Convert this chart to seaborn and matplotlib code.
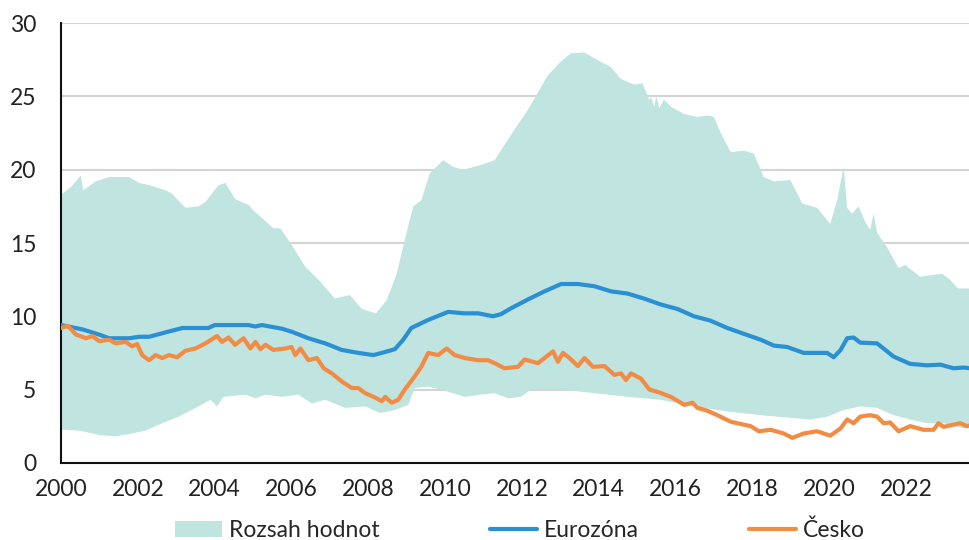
import numpy as np
import matplotlib
matplotlib.use("Agg")
import matplotlib.pyplot as plt
import seaborn as sns
from matplotlib.patches import Patch
from matplotlib.lines import Line2D

# Range of values across countries (upper edge)
hi_t = [2000.0, 2000.25, 2000.51, 2000.58, 2000.9, 2001.25, 2001.77, 2002.03, 2002.29, 2002.72,
        2002.87, 2003.24, 2003.58, 2003.76, 2004.1, 2004.28, 2004.53, 2004.88, 2005.06, 2005.32,
        2005.53, 2005.71, 2006.0, 2006.35, 2006.7, 2007.13, 2007.52, 2007.83, 2008.2, 2008.48,
        2008.74, 2008.95, 2009.17, 2009.38, 2009.6, 2009.95, 2010.21, 2010.47, 2010.9, 2011.29,
        2011.72, 2012.16, 2012.42, 2012.68, 2013.02, 2013.28, 2013.63, 2013.89, 2014.32, 2014.58,
        2014.93, 2015.14, 2015.32, 2015.36, 2015.45, 2015.5, 2015.58, 2015.7, 2015.88, 2016.23,
        2016.57, 2016.83, 2017.0, 2017.18, 2017.44, 2017.78, 2018.04, 2018.3, 2018.56, 2018.99,
        2019.3, 2019.69, 2020.03, 2020.21, 2020.38, 2020.47, 2020.6, 2020.77, 2020.94, 2021.07,
        2021.16, 2021.25, 2021.5, 2021.81, 2021.98, 2022.37, 2022.94, 2023.15, 2023.35, 2023.67]
hi_v = [18.3, 18.8, 19.6, 18.6, 19.2, 19.5, 19.5, 19.1, 18.95, 18.6,
        18.4, 17.4, 17.5, 17.8, 18.95, 19.1, 18.0, 17.6, 17.1, 16.5,
        16.0, 16.0, 14.9, 13.4, 12.5, 11.2, 11.45, 10.5, 10.2, 11.1,
        12.9, 15.2, 17.5, 17.9, 19.75, 20.65, 20.2, 20.0, 20.3, 20.65,
        22.4, 24.1, 25.3, 26.45, 27.4, 27.95, 28.0, 27.6, 27.0, 26.2,
        25.8, 25.9, 24.75, 25.0, 24.3, 25.0, 24.2, 24.8, 24.3, 23.8,
        23.6, 23.7, 23.6, 22.5, 21.2, 21.3, 21.1, 19.5, 19.2, 19.3,
        17.7, 17.4, 16.3, 17.9, 20.2, 17.4, 17.0, 17.5, 16.45, 15.9,
        17.0, 15.7, 14.75, 13.3, 13.5, 12.7, 12.9, 12.5, 11.9, 11.9]

# Range of values across countries (lower edge)
lo_t = [2000.0, 2000.47, 2000.99, 2001.42, 2001.85, 2002.2, 2002.63, 2003.06, 2003.58, 2003.89,
        2004.06, 2004.23, 2004.8, 2005.06, 2005.32, 2005.75, 2006.18, 2006.53, 2006.88, 2007.4,
        2007.92, 2008.3, 2008.69, 2009.04, 2009.21, 2009.56, 2010.08, 2010.51, 2010.94, 2011.29,
        2011.64, 2011.98, 2012.24, 2013.02, 2013.89, 2014.75, 2015.62, 2016.48, 2017.35, 2018.22,
        2019.08, 2019.51, 2019.95, 2020.38, 2020.81, 2021.25, 2021.68, 2022.11, 2022.55, 2022.98,
        2023.5, 2023.67]
lo_v = [2.25, 2.2, 1.9, 1.8, 2.0, 2.2, 2.7, 3.15, 3.85, 4.3,
        3.85, 4.5, 4.65, 4.4, 4.65, 4.5, 4.65, 4.05, 4.3, 3.75,
        3.85, 3.4, 3.6, 3.95, 5.1, 5.2, 4.85, 4.5, 4.65, 4.75,
        4.4, 4.5, 5.0, 5.0, 4.75, 4.5, 4.3, 3.85, 3.5, 3.25,
        3.05, 2.95, 3.15, 3.6, 3.85, 3.75, 3.25, 2.95, 2.7, 2.7,
        2.35, 2.4]

# Eurozone
eu_t = [2000.0, 2000.56, 2000.99, 2001.25, 2001.77, 2002.03, 2002.29, 2002.72, 2003.16, 2003.84,
        2004.0, 2004.88, 2005.06, 2005.23, 2005.75, 2006.0, 2006.44, 2006.88, 2007.31, 2007.74,
        2008.13, 2008.35, 2008.69, 2008.91, 2009.12, 2009.56, 2010.08, 2010.51, 2010.86, 2011.25,
        2011.46, 2011.72, 2012.16, 2012.59, 2013.02, 2013.46, 2013.89, 2014.32, 2014.75, 2015.19,
        2015.62, 2016.05, 2016.48, 2016.91, 2017.35, 2017.78, 2018.22, 2018.56, 2018.91, 2019.34,
        2019.69, 2019.95, 2020.12, 2020.3, 2020.47, 2020.64, 2020.81, 2021.25, 2021.68, 2022.11,
        2022.55, 2022.9, 2023.24, 2023.5, 2023.67]
eu_v = [9.4, 9.1, 8.75, 8.5, 8.5, 8.6, 8.6, 8.9, 9.2, 9.2,
        9.4, 9.4, 9.3, 9.4, 9.15, 8.95, 8.5, 8.15, 7.7, 7.5,
        7.35, 7.5, 7.75, 8.4, 9.2, 9.75, 10.3, 10.2, 10.2, 10.0,
        10.15, 10.55, 11.15, 11.7, 12.2, 12.2, 12.05, 11.7, 11.55, 11.2,
        10.8, 10.5, 10.0, 9.7, 9.2, 8.8, 8.4, 8.0, 7.9, 7.5,
        7.5, 7.5, 7.2, 7.7, 8.5, 8.55, 8.2, 8.15, 7.25, 6.75,
        6.65, 6.7, 6.45, 6.5, 6.45]

# Czechia
cz_t = [2000.0, 2000.17, 2000.39, 2000.65, 2000.82, 2000.99, 2001.25, 2001.42, 2001.68, 2001.85,
        2001.98, 2002.11, 2002.29, 2002.46, 2002.63, 2002.81, 2003.02, 2003.24, 2003.5, 2003.76,
        2004.06, 2004.19, 2004.36, 2004.53, 2004.75, 2004.93, 2005.06, 2005.19, 2005.32, 2005.53,
        2005.84, 2006.0, 2006.1, 2006.23, 2006.44, 2006.66, 2006.84, 2007.05, 2007.31, 2007.57,
        2007.74, 2007.92, 2008.18, 2008.35, 2008.44, 2008.61, 2008.78, 2008.95, 2009.21, 2009.38,
        2009.56, 2009.82, 2010.04, 2010.25, 2010.51, 2010.86, 2011.12, 2011.29, 2011.55, 2011.9,
        2012.07, 2012.42, 2012.59, 2012.81, 2012.94, 2013.07, 2013.24, 2013.46, 2013.63, 2013.85,
        2014.15, 2014.41, 2014.58, 2014.71, 2014.84, 2015.1, 2015.32, 2015.58, 2015.88, 2016.23,
        2016.44, 2016.57, 2016.83, 2017.09, 2017.44, 2017.78, 2017.96, 2018.17, 2018.48, 2018.82,
        2019.04, 2019.34, 2019.69, 2020.03, 2020.3, 2020.47, 2020.64, 2020.81, 2021.07, 2021.25,
        2021.42, 2021.59, 2021.81, 2022.11, 2022.46, 2022.72, 2022.85, 2022.98, 2023.41, 2023.59,
        2023.67]
cz_v = [9.2, 9.35, 8.75, 8.5, 8.65, 8.3, 8.4, 8.15, 8.25, 7.95,
        8.1, 7.35, 7.0, 7.35, 7.15, 7.35, 7.2, 7.65, 7.8, 8.15,
        8.65, 8.25, 8.55, 8.05, 8.5, 7.8, 8.25, 7.75, 8.05, 7.7,
        7.8, 7.9, 7.35, 7.8, 7.0, 7.15, 6.45, 6.1, 5.55, 5.1,
        5.1, 4.75, 4.45, 4.2, 4.5, 4.1, 4.3, 5.0, 5.9, 6.55,
        7.5, 7.35, 7.8, 7.35, 7.15, 7.0, 7.0, 6.8, 6.45, 6.55,
        7.05, 6.8, 7.15, 7.6, 6.9, 7.5, 7.15, 6.6, 7.15, 6.55,
        6.6, 6.0, 6.1, 5.65, 6.1, 5.75, 5.0, 4.8, 4.5, 3.95,
        4.1, 3.75, 3.55, 3.25, 2.8, 2.6, 2.5, 2.15, 2.25, 2.0,
        1.7, 2.0, 2.15, 1.85, 2.35, 2.95, 2.7, 3.15, 3.25, 3.15,
        2.7, 2.75, 2.15, 2.5, 2.25, 2.25, 2.7, 2.45, 2.7, 2.5,
        2.55]

band_color = "#c0e4df"
eu_color = "#2b8fd4"
cz_color = "#f28c45"

sns.set_style("white")
plt.rcParams["font.family"] = ["Lato", "DejaVu Sans"]

fig, ax = plt.subplots(figsize=(9.7, 5.4), dpi=100)
fig.subplots_adjust(left=0.063, right=1.0, top=0.957, bottom=0.143)

# band as a polygon: upper edge forward, lower edge back
ax.fill(np.r_[hi_t, lo_t[::-1]], np.r_[hi_v, lo_v[::-1]],
        color=band_color, linewidth=0, zorder=1)

sns.lineplot(x=eu_t, y=eu_v, ax=ax, color=eu_color, linewidth=3, zorder=3)
sns.lineplot(x=cz_t, y=cz_v, ax=ax, color=cz_color, linewidth=3, zorder=3)

ax.set_xlim(2000, 2023.67)
ax.set_ylim(0, 30)
ax.set_xticks(range(2000, 2023, 2))
ax.set_yticks(range(0, 31, 5))
ax.yaxis.grid(True, color="#d4d4d4", linewidth=1.5, zorder=0)
ax.set_axisbelow(True)
ax.tick_params(axis="both", length=0, labelsize=16.5, colors="#222222")
ax.tick_params(axis="x", pad=12)
ax.tick_params(axis="y", pad=18)
for s in ["top", "right"]:
    ax.spines[s].set_visible(False)
for s in ["left", "bottom"]:
    ax.spines[s].set_color("#111111")
    ax.spines[s].set_linewidth(1.5)
ax.set_xlabel("")
ax.set_ylabel("")

handles = [Patch(facecolor=band_color, edgecolor="none"),
           Line2D([], [], color=eu_color, linewidth=3),
           Line2D([], [], color=cz_color, linewidth=3)]
labels = ["Rozsah hodnot", "Eurozóna", "Česko"]
fig.legend(handles, labels, loc="lower center", bbox_to_anchor=(0.536, -0.04), ncol=3,
           frameon=False, fontsize=16.5, handlelength=2.05, handleheight=0.7,
           handletextpad=0.3, columnspacing=4.8)

fig.savefig("out.png", dpi=100)
